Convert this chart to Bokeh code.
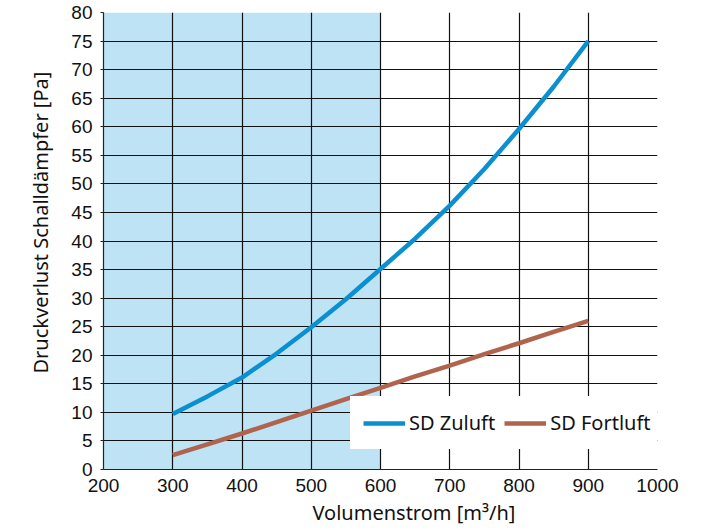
from bokeh.plotting import figure
from bokeh.models import Range1d, FixedTicker, Title
from bokeh.embed import file_html
from bokeh.resources import INLINE

# ---- data ----
flow = [300, 350, 400, 450, 500, 550, 600, 650, 700, 750, 800, 850, 900]
zuluft = [9.7, 12.8, 16.1, 20.3, 24.9, 29.8, 35.1, 40.4, 46.2, 52.6, 59.6, 67.0, 75.0]
fortluft = [2.5, 4.4, 6.3, 8.3, 10.3, 12.3, 14.3, 16.3, 18.2, 20.2, 22.1, 24.1, 26.0]
shade_x = [200, 600]
x_ticks = [200, 300, 400, 500, 600, 700, 800, 900, 1000]
y_ticks = list(range(0, 81, 5))

BLUE = "#0A8FD1"
BROWN = "#B0644D"
SHADE = "#BEE3F5"

p = figure(width=708, height=529, output_backend="svg", toolbar_location=None,
           x_range=Range1d(200, 1000), y_range=Range1d(0, 80),
           min_border_left=103, min_border_right=51, min_border_top=12, min_border_bottom=60)
p.outline_line_color = None
p.background_fill_color = "white"

p.quad(left=shade_x[0], right=shade_x[1], bottom=p.y_range.start, top=p.y_range.end,
       fill_color=SHADE, line_color=None, level="image")

p.line(flow, zuluft, line_color=BLUE, line_width=4.5, legend_label="SD Zuluft")
p.line(flow, fortluft, line_color=BROWN, line_width=4.5, legend_label="SD Fortluft")

p.xaxis.ticker = FixedTicker(ticks=x_ticks)
p.yaxis.ticker = FixedTicker(ticks=y_ticks)
p.xgrid.ticker = FixedTicker(ticks=x_ticks)
p.ygrid.ticker = FixedTicker(ticks=y_ticks)
for g in (p.xgrid, p.ygrid):
    g.grid_line_color = "#111111"
    g.grid_line_width = 1.2
    g.grid_line_alpha = 1.0

for ax in (p.xaxis, p.yaxis):
    ax.axis_line_color = "#222222"
    ax.axis_line_width = 1.2
    ax.major_tick_line_color = "#222222"
    ax.minor_tick_line_color = None
    ax.major_label_text_font = "Liberation Sans"
    ax.major_label_text_font_size = "19px"
    ax.major_label_text_color = "#111111"

p.xaxis.major_tick_out = 0
p.xaxis.major_tick_in = 0
p.xaxis.major_label_standoff = 9
p.yaxis.major_tick_out = 3
p.yaxis.major_tick_in = 0
p.yaxis.major_label_standoff = 8

xtitle = Title(text="Volumenstrom [m³/h]", align="left", offset=209, standoff=5,
               text_font="Noto Sans", text_font_size="20px", text_font_style="normal",
               text_color="#111111")
p.add_layout(xtitle, "below")

ytitle = Title(text="Druckverlust Schalldämpfer [Pa]", align="left", offset=96, standoff=26,
               vertical_align="top",
               text_font="Noto Sans", text_font_size="20px", text_font_style="normal",
               text_color="#111111")
p.add_layout(ytitle, "left")

lg = p.legend[0]
lg.orientation = "horizontal"
lg.location = (247, 20)
lg.padding = 12
lg.margin = 0
lg.spacing = 9
lg.label_standoff = 4
lg.glyph_width = 42
lg.glyph_height = 20
lg.label_text_font = "Noto Sans"
lg.label_text_font_size = "20px"
lg.label_text_color = "#111111"
lg.background_fill_color = "white"
lg.background_fill_alpha = 1.0
lg.border_line_color = "white"
lg.border_line_width = 1

open("out.html", "w").write(file_html(p, INLINE))
